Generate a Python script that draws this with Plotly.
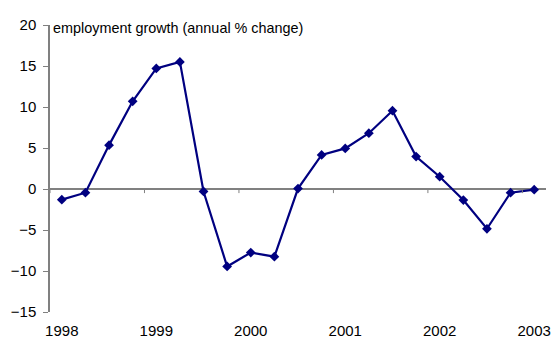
import plotly.graph_objects as go

quarters = list(range(21))
values = [-1.3, -0.45, 5.35, 10.7, 14.7, 15.5, -0.3, -9.45, -7.75, -8.25, 0.05,
          4.15, 4.95, 6.8, 9.55, 3.95, 1.5, -1.35, -4.85, -0.45, -0.08]
year_labels = ["1998", "1999", "2000", "2001", "2002", "2003"]
label_pos = [0, 4, 8, 12, 16, 20]
tick_bounds = [-0.5, 3.5, 7.5, 11.5, 15.5, 19.5]

navy = "#000080"
gray = "#808080"
family = "Liberation Sans, Arial, sans-serif"
font = dict(family=family, size=14.4, color="#000000")
tickfont = dict(family=family, size=15, color="#000000")

fig = go.Figure()
fig.add_trace(go.Scatter(
    x=quarters, y=values, mode="lines+markers",
    line=dict(color=navy, width=2.2),
    marker=dict(symbol="diamond", size=7.5, color=navy),
    showlegend=False, cliponaxis=False,
))

shapes = [dict(type="line", xref="x", yref="y", x0=b, x1=b, y0=0, y1=-0.5,
               line=dict(color=gray, width=1)) for b in tick_bounds]

fig.update_layout(
    width=553, height=340,
    margin=dict(l=50, r=7, t=25, b=28),
    paper_bgcolor="white", plot_bgcolor="white",
    font=font,
    shapes=shapes,
    xaxis=dict(range=[-0.5, 20.5], tickvals=label_pos, ticktext=year_labels,
               showline=False, showgrid=False, zeroline=False, ticks="",
               ticklabelstandoff=8, tickfont=tickfont, automargin=False),
    yaxis=dict(range=[-15, 20], dtick=5, tick0=0, showgrid=False,
               showline=True, linecolor=gray, linewidth=1.5,
               ticks="outside", ticklen=5, tickcolor=gray, tickwidth=1,
               zeroline=True, zerolinecolor=gray, zerolinewidth=1.5,
               ticklabelstandoff=4, tickfont=tickfont, automargin=False),
    annotations=[dict(text="employment growth (annual % change)", xref="paper", yref="paper",
                      x=0, y=1, xanchor="left", yanchor="middle", xshift=1, yshift=-3,
                      showarrow=False, font=font)],
)

fig.write_html("out.html")
